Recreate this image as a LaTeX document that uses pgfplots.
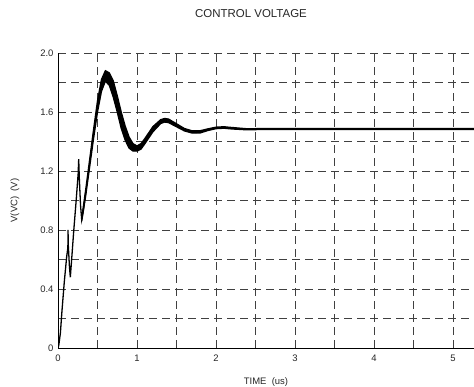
\documentclass[border=0pt]{standalone}
\usepackage{pgfplots}
\pgfplotsset{compat=1.18}
\usepackage{fontspec}
\setmainfont{Liberation Sans}
\begin{document}
\begin{tikzpicture}
\useasboundingbox (0,0) rectangle (474bp,387bp);
\node[font=\fontsize{11.5}{13}\selectfont, text=black!85] at (251bp,373bp) {CONTROL VOLTAGE};
\begin{axis}[
  at={(58bp,39bp)}, anchor=south west,
  scale only axis, width=416bp, height=295bp,
  xmin=0, xmax=5.266, ymin=0, ymax=2.0,
  axis x line=bottom, axis y line=left,
  axis line style={black, line width=0.8pt, -},
  xtick={0,1,2,3,4,5},
  minor xtick={0.5,1.5,2.5,3.5,4.5},
  ytick={0,0.4,0.8,1.2,1.6,2.0},
  yticklabels={0,0.4,0.8,1.2,1.6,2.0},
  minor ytick={0.2,0.6,1.0,1.4,1.8},
  major tick length=0pt, minor tick length=0pt,
  grid=both,
  major grid style={black!75, line width=0.6pt, dash pattern=on 8bp off 5bp},
  minor grid style={black!75, line width=0.6pt, dash pattern=on 8bp off 5bp},
  /pgf/number format/assume math mode=true,
  tick label style={font=\fontsize{9.5}{11}\selectfont, text=black!85},
  xticklabel style={yshift=-3bp},
  yticklabel style={xshift=-1bp},
  xlabel={TIME\ \ (us)},
  ylabel={V(VC)\ \ (V)},
  label style={font=\fontsize{9.5}{11}\selectfont, text=black!85},
  xlabel style={at={(axis description cs:0.5,-0.115)}, anchor=center},
  ylabel style={at={(axis description cs:-0.1034,0.5)}, anchor=center},
  clip=true,
]
% early switching transient
\addplot[black, line width=1.3pt] coordinates {
 (0,0) (0.01,0.02) (0.03,0.10) (0.05,0.25) (0.08,0.45) (0.11,0.62) (0.125,0.68)
 (0.127,0.80) (0.13,0.70) (0.145,0.55) (0.156,0.48) (0.17,0.58) (0.20,0.80)
 (0.23,1.00) (0.255,1.18) (0.262,1.28) (0.27,1.15) (0.285,0.97) (0.30,0.87)
 (0.32,0.93) (0.35,1.05)
};
% ripple band (upper envelope then lower envelope)
\addplot[black, fill=black, line width=1.3pt] coordinates {
 (0.30,0.88) (0.35,1.07) (0.40,1.275) (0.45,1.48) (0.50,1.675) (0.55,1.82)
 (0.60,1.88) (0.65,1.865) (0.70,1.81) (0.75,1.71) (0.80,1.60) (0.85,1.505)
 (0.90,1.43) (0.95,1.385) (1.00,1.37) (1.05,1.385) (1.10,1.42) (1.20,1.50)
 (1.30,1.548) (1.35,1.556) (1.40,1.552) (1.50,1.52) (1.60,1.488) (1.70,1.472)
 (1.80,1.473) (1.90,1.486) (2.00,1.497) (2.10,1.500) (2.20,1.495) (2.40,1.486)
 (2.60,1.488) (5.30,1.488)
 (5.30,1.482) (2.60,1.482) (2.40,1.479) (2.20,1.485) (2.10,1.490) (2.00,1.487)
 (1.90,1.475) (1.80,1.458) (1.70,1.457) (1.60,1.472) (1.50,1.50) (1.40,1.528)
 (1.35,1.532) (1.30,1.522) (1.20,1.465) (1.10,1.385) (1.05,1.348) (1.00,1.335)
 (0.95,1.335) (0.90,1.355) (0.85,1.41) (0.80,1.49) (0.75,1.60) (0.70,1.70)
 (0.65,1.78) (0.60,1.81) (0.55,1.74) (0.50,1.60) (0.45,1.42) (0.40,1.225)
 (0.35,1.03) (0.30,0.86)
} --cycle;
\end{axis}
\end{tikzpicture}
\end{document}
